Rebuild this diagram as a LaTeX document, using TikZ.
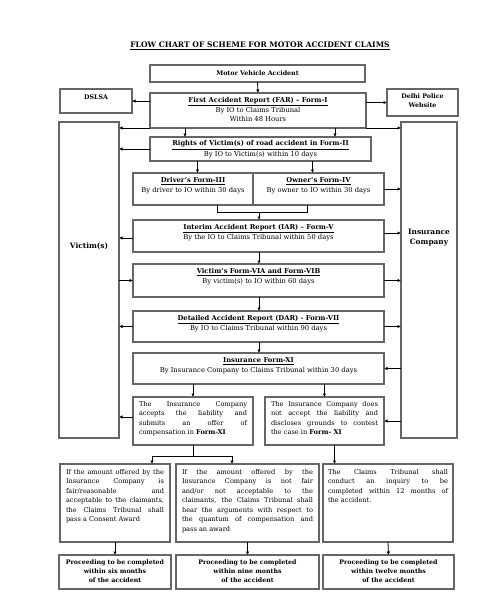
\documentclass[tikz,border=0pt]{standalone}
\usepackage{fontspec}
\setmainfont{DejaVu Serif}
\usetikzlibrary{arrows.meta}
\newcommand\mybox[6][box]{\node[#1,minimum width={#5-#3},minimum height={#6-#4}] (#2) at ({(#3+#5)/2},{(#4+#6)/2}) {};}
\newcommand\sm{\fontsize{6.75}{8.6}\selectfont}
\newcommand\smj{\fontsize{6.6}{9.5}\selectfont}
\newcommand\hd[1]{\textbf{\underline{#1}}}
\tikzset{
  box/.style={draw=black!60,line width=1.1pt,inner sep=0pt,outer sep=0pt},
  txt/.style={inner sep=0pt,align=center,font=\sm},
  jtxt/.style={inner sep=0pt,align=justify,font=\smj},
  arr/.style={draw=black,line width=0.8pt,-{Latex[length=3.5pt,width=3.5pt]}},
  ln/.style={draw=black,line width=0.8pt},
}
\begin{document}
\begin{tikzpicture}[x=1pt,y=-1pt]
\useasboundingbox (0,0) rectangle (493,600);
% title
\node[inner sep=0pt,font=\fontsize{7.6}{9}\selectfont] (title) at (260,46) {\hd{FLOW CHART OF SCHEME FOR MOTOR ACCIDENT CLAIMS}};
% boxes
\mybox{mva}{150}{65}{365}{82}
\mybox{dslsa}{60}{89}{132}{113}
\mybox{far}{150}{93}{366}{128}
\mybox{delhi}{387}{89}{458}{116}
\mybox{vic}{59}{122}{119}{438}
\mybox{ins}{401}{122}{457}{438}
\mybox{rights}{150}{137}{371}{161}
\mybox{drv}{133}{173}{253}{205}
\mybox{own}{253}{173}{384}{205}
\mybox{iar}{133}{220}{384}{252}
\mybox{via}{133}{264}{384}{297}
\mybox{dar}{133}{311}{384}{342}
\mybox{ifxi}{133}{353}{384}{384}
\mybox{acc}{133}{397}{253}{445}
\mybox{nacc}{265}{397}{384}{445}
\mybox{ra}{60}{464}{170}{542}
\mybox{rb}{176}{464}{319}{542}
\mybox{rc}{323}{464}{453}{542}
\mybox{pa}{59}{555}{171}{589}
\mybox{pb}{176}{555}{319}{589}
\mybox{pc}{323}{555}{454}{589}
% texts
\node[txt,font=\fontsize{6.3}{8}\selectfont\bfseries] (mvaT) at (mva) {Motor Vehicle Accident};
\node[txt,anchor=north,font=\fontsize{6.3}{8}\selectfont\bfseries] (dslsaT) at ([yshift=-6pt]dslsa.north) {DSLSA};
\node[txt,anchor=north,font=\fontsize{6.3}{9}\selectfont\bfseries] (delhiT) at ([yshift=-5pt]delhi.north) {Delhi Police\\Website};
\node[txt,anchor=north] (farT) at ([yshift=-4.5pt]far.north) {\hd{First Accident Report (FAR) -- Form-I}\\[1pt]By IO to Claims Tribunal\\Within 48 Hours};
\node[txt,anchor=north] (rightsT) at ([yshift=-3.5pt]rights.north) {\hd{Rights of Victim(s) of road accident in Form-II}\\[1.5pt]By IO to Victim(s) within 10 days};
\node[txt,anchor=north] (drvT) at ([yshift=-4.5pt]drv.north) {\hd{Driver's Form-III}\\[1pt]By driver to IO within 30 days};
\node[txt,anchor=north] (ownT) at ([yshift=-4.5pt]own.north) {\hd{Owner's Form-IV}\\[1pt]By owner to IO within 30 days};
\node[txt,anchor=north] (iarT) at ([yshift=-4.5pt]iar.north) {\hd{Interim Accident Report (IAR) -- Form-V}\\[1pt]By the IO to Claims Tribunal within 50 days};
\node[txt,anchor=north] (viaT) at ([yshift=-4.5pt]via.north) {\hd{Victim's Form-VIA and Form-VIB}\\[1pt]By victim(s) to IO within 60 days};
\node[txt,anchor=north] (darT) at ([yshift=-4.5pt]dar.north) {\hd{Detailed Accident Report (DAR) - Form-VII}\\[1pt]By IO to Claims Tribunal within 90 days};
\node[txt,anchor=north] (ifxiT) at ([yshift=-4.5pt]ifxi.north) {\hd{Insurance Form-XI}\\[1pt]By Insurance Company to Claims Tribunal within 30 days};
\node[txt,font=\fontsize{7.4}{9}\selectfont\bfseries] (vicT) at (89,246) {Victim(s)};
\node[txt,font=\fontsize{7.4}{10}\selectfont\bfseries] (insT) at (429,238) {Insurance\\Company};
\node[jtxt,anchor=north,text width=108pt] (accT) at ([yshift=-4pt]acc.north) {The Insurance Company\linebreak accepts the liability and\linebreak submits an offer of\linebreak compensation in \textbf{Form-XI}};
\node[jtxt,anchor=north,text width=107pt] (naccT) at ([yshift=-4pt]nacc.north) {The Insurance Company does\linebreak not accept the liability and\linebreak discloses grounds to contest\linebreak the case in \textbf{Form- XI}};
\node[jtxt,anchor=north,text width=98pt] (raT) at ([yshift=-5pt]ra.north) {If the amount offered by the\linebreak Insurance Company is\linebreak fair/reasonable and\linebreak acceptable to the claimants,\linebreak the Claims Tribunal shall\linebreak pass a Consent Award};
\node[jtxt,anchor=north,text width=131pt] (rbT) at ([yshift=-5pt]rb.north) {If the amount offered by the\linebreak Insurance Company is not fair\linebreak and/or not acceptable to the\linebreak claimants, the Claims Tribunal shall\linebreak hear the arguments with respect to\linebreak the quantum of compensation and\linebreak pass an award};
\node[jtxt,anchor=north,text width=120pt] (rcT) at ([yshift=-5pt]rc.north) {The Claims Tribunal shall\linebreak conduct an inquiry to be\linebreak completed within 12 months of\linebreak the accident.};
\node[txt,anchor=north,font=\fontsize{6.25}{8.7}\selectfont\bfseries] (paT) at ([yshift=-5pt]pa.north) {Proceeding to be completed\\within six months\\of the accident};
\node[txt,anchor=north,font=\fontsize{6.25}{8.7}\selectfont\bfseries] (pbT) at ([yshift=-5pt]pb.north) {Proceeding to be completed\\within nine months\\of the accident};
\node[txt,anchor=north,font=\fontsize{6.25}{8.7}\selectfont\bfseries] (pcT) at ([yshift=-5pt]pc.north) {Proceeding to be completed\\within twelve months\\of the accident};
% connectors
\draw[arr] (mva.south) -- (far.north);
\draw[arr] (far.west |- dslsa.east) -- (dslsa.east);
\draw[arr] (far.east |- delhi.west) -- (delhi.west);
\draw[arr] (far.south west) -- (far.south west -| vic.east);
\draw[arr] (far.south east) -- (far.south east -| ins.west);
\draw[arr] ([xshift=-73pt]far.south) -- ([xshift=-73pt]far.south |- rights.north);
\draw[arr] ([xshift=77pt]far.south) -- ([xshift=77pt]far.south |- rights.north);
\draw[arr] (rights.west) -- (rights.west -| vic.east);
\draw[arr] ([xshift=-63pt]rights.south) -- ([xshift=-63pt]rights.south |- drv.north);
\draw[arr] ([xshift=52pt]rights.south) -- ([xshift=52pt]rights.south |- own.north);
\draw[arr] (own.east) -- (own.east -| ins.west);
\coordinate (bl) at (217,212);
\coordinate (br) at (307,212);
\coordinate (bm) at (259,212);
\draw[ln] (drv.south -| bl) -- (bl) -- (br) -- (own.south -| br);
\draw[arr] (bm) -- (iar.north -| bm);
\draw[arr] ([yshift=-2pt]iar.west) -- ([yshift=-2pt]iar.west -| vic.east);
\draw[arr] ([yshift=3pt]iar.east) -- ([yshift=3pt]iar.east -| ins.west);
\draw[arr] (iar.south -| bm) -- (via.north -| bm);
\draw[arr] (via.west -| vic.east) -- (via.west);
\draw[arr] (via.east) -- (via.east -| ins.west);
\draw[arr] (via.south -| bm) -- (dar.north -| bm);
\draw[arr] (dar.west) -- (dar.west -| vic.east);
\draw[arr] (dar.east) -- (dar.east -| ins.west);
\draw[arr] (dar.south -| bm) -- (ifxi.north -| bm);
\draw[arr] (ifxi.east -| ins.west) -- (ifxi.east);
\draw[arr] (ifxi.south -| acc.north) -- (acc.north);
\draw[arr] (ifxi.south -| nacc.north) -- (nacc.north);
\draw[arr] ([yshift=4pt]acc.west) -- ([yshift=4pt]acc.west -| vic.east);
\draw[arr] (nacc.east -| ins.west) -- (nacc.east);
\coordinate (sl) at (152,456);
\coordinate (sr) at (232,456);
\draw[ln] (acc.south) -- (acc.south |- sl);
\draw[ln] (sl) -- (sr);
\draw[arr] (sl) -- (sl |- ra.north);
\draw[arr] (sr) -- (sr |- rb.north);
\draw[arr] ([xshift=10pt]nacc.south) -- ([xshift=10pt]nacc.south |- rc.north);
\draw[arr] (ra.south) -- (pa.north);
\draw[arr] (rb.south) -- (pb.north);
\draw[arr] (rc.south) -- (pc.north);
\end{tikzpicture}
\end{document}
